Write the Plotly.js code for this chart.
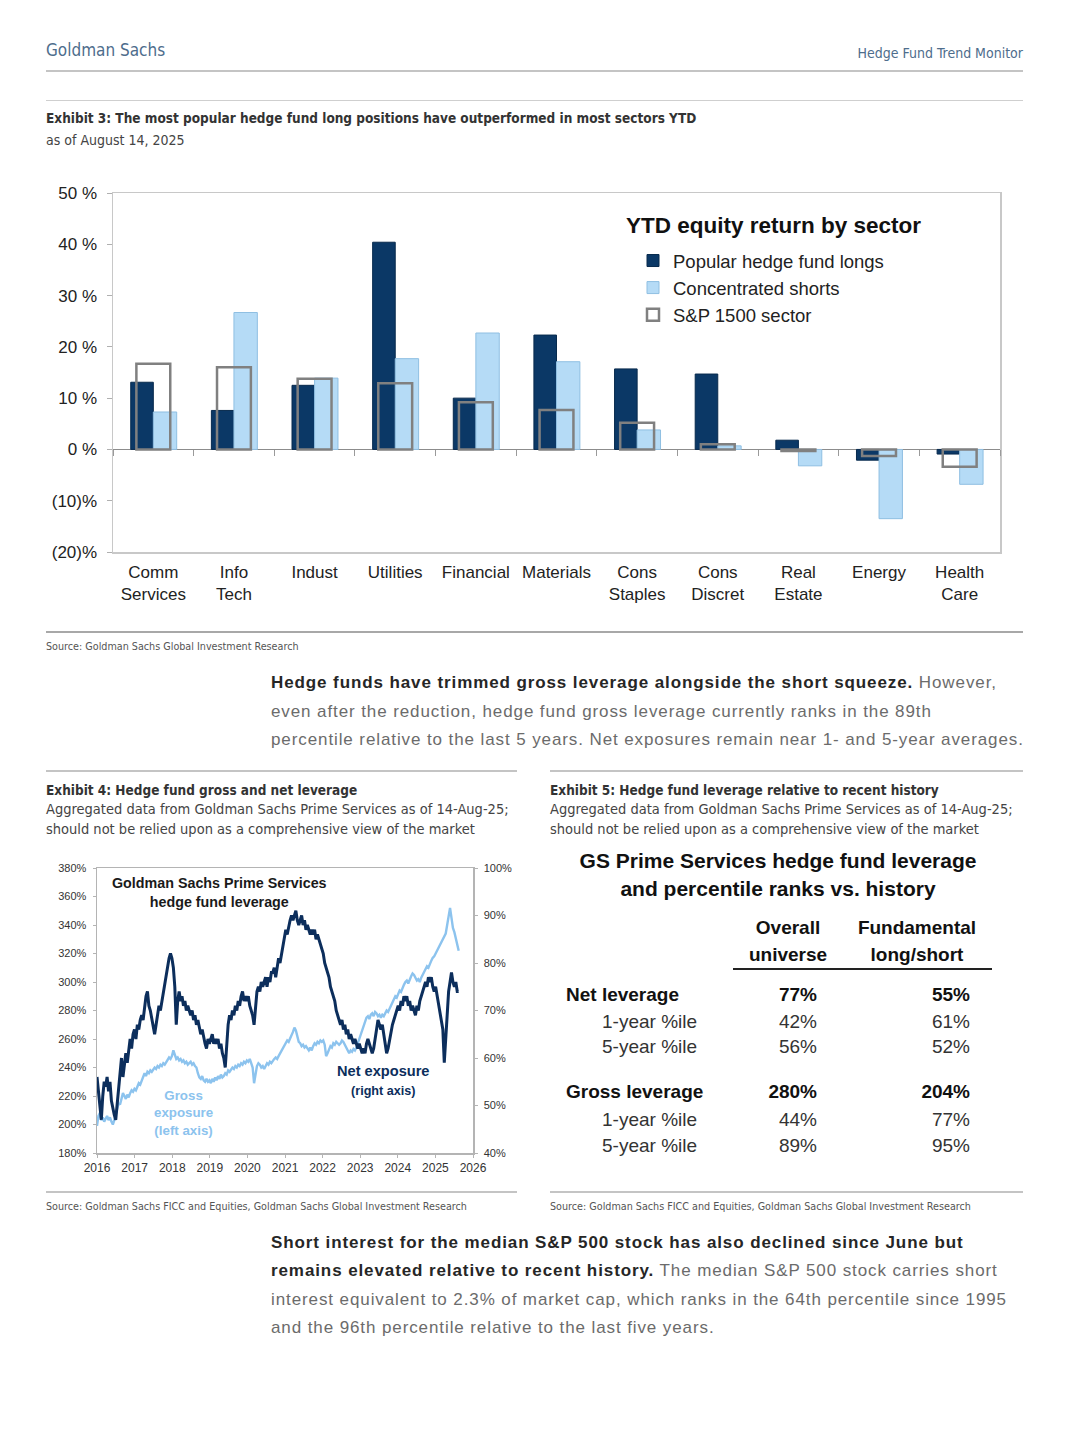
<!DOCTYPE html>
<html><head><meta charset="utf-8">
<script src="https://cdn.plot.ly/plotly-3.0.1.min.js"></script>
<style>
body{margin:0;background:#fff;width:1080px;height:1443px;position:relative;overflow:hidden;font-family:"Liberation Sans",Arial,sans-serif;}
.t{position:absolute;white-space:nowrap;}
.n{font-family:"Liberation Sans Narrow","Arial Narrow","DejaVu Sans Condensed",sans-serif;}
.rule{position:absolute;height:0;}
.para{letter-spacing:0.9px;}
#bar{position:absolute;left:0;top:150px;width:1080px;height:470px;}
#line{position:absolute;left:0;top:855px;width:540px;height:330px;}
</style></head><body>

<div class="t n" style="left:46px;top:39px;font-size:17px;line-height:22px;color:#4e6d8c;">Goldman Sachs</div>
<div class="t n" style="right:57px;top:44px;font-size:14px;line-height:18px;color:#4e6d8c;">Hedge Fund Trend Monitor</div>
<div class="rule" style="left:46px;width:977px;top:70px;border-top:2px solid #c4c4c4;"></div>
<div class="rule" style="left:46px;width:977px;top:100px;border-top:1px solid #cfcfcf;"></div>
<div class="t n" style="left:46px;top:109px;font-size:13.5px;line-height:18px;color:#333;font-weight:bold;">Exhibit 3: The most popular hedge fund long positions have outperformed in most sectors YTD</div>
<div class="t n" style="left:46px;top:131px;font-size:14px;line-height:18px;color:#444;">as of August 14, 2025</div>

<div id="bar"></div>

<div class="rule" style="left:46px;width:977px;top:631px;border-top:2px solid #a8a8a8;"></div>
<div class="t n" style="left:46px;top:640px;font-size:10.7px;line-height:14px;color:#555;">Source: Goldman Sachs Global Investment Research</div>

<div id="para1" class="t para" style="left:271px;top:669px;font-size:17px;line-height:28.5px;color:#6b6b6b;"></div>

<div class="rule" style="left:46px;width:471px;top:770px;border-top:2px solid #c4c4c4;"></div>
<div class="rule" style="left:550px;width:473px;top:770px;border-top:2px solid #c4c4c4;"></div>
<div class="t n" style="left:46px;top:781px;font-size:13.5px;line-height:18px;color:#333;font-weight:bold;">Exhibit 4: Hedge fund gross and net leverage</div>
<div class="t n" style="left:46px;top:800px;font-size:14.5px;line-height:19.5px;color:#444;">Aggregated data from Goldman Sachs Prime Services as of 14-Aug-25;<br>should not be relied upon as a comprehensive view of the market</div>
<div class="t n" style="left:550px;top:781px;font-size:13.5px;line-height:18px;color:#333;font-weight:bold;">Exhibit 5: Hedge fund leverage relative to recent history</div>
<div class="t n" style="left:550px;top:800px;font-size:14.5px;line-height:19.5px;color:#444;">Aggregated data from Goldman Sachs Prime Services as of 14-Aug-25;<br>should not be relied upon as a comprehensive view of the market</div>

<div id="line"></div>
<div id="table"></div>

<div class="rule" style="left:46px;width:471px;top:1191px;border-top:2px solid #c4c4c4;"></div>
<div class="rule" style="left:550px;width:473px;top:1191px;border-top:2px solid #c4c4c4;"></div>
<div class="t n" style="left:46px;top:1200px;font-size:10.7px;line-height:14px;color:#555;">Source: Goldman Sachs FICC and Equities, Goldman Sachs Global Investment Research</div>
<div class="t n" style="left:550px;top:1200px;font-size:10.7px;line-height:14px;color:#555;">Source: Goldman Sachs FICC and Equities, Goldman Sachs Global Investment Research</div>

<div id="para2" class="t para" style="left:271px;top:1229px;font-size:17px;line-height:28.4px;color:#6b6b6b;"></div>

<script>
// ---------- Exhibit 3 data ----------
const sectors = ['Comm<br>Services','Info<br>Tech','Indust','Utilities','Financial','Materials','Cons<br>Staples','Cons<br>Discret','Real<br>Estate','Energy','Health<br>Care'];
const hfLongs = [13.1, 7.6, 12.5, 40.4, 10.0, 22.3, 15.7, 14.7, 1.8, -2.1, -0.9];
const concShorts = [7.3, 26.7, 13.9, 17.7, 22.7, 17.1, 3.8, 0.7, -3.2, -13.5, -6.8];
const sp1500 = [16.7, 16.0, 13.8, 12.9, 9.2, 7.7, 5.2, 1.0, -0.3, -1.3, -3.4];
const barTickVals = [-20, -10, 0, 10, 20, 30, 40, 50];
const barTickText = ['(20)%', '(10)%', '0 %', '10 %', '20 %', '30 %', '40 %', '50 %'];

// ---------- Exhibit 4 data (bi-weekly readings from 2016-01-01) ----------
const seriesStart = '2016-01-01';
const netExposure = [
56,53,49,47,52,55,54,56,53,55,51,49,48,47,50,54,57,60,56,58,61,59,62,64,62,65,
66,64,67,66,68,69,68,71,73,74,71,70,68,66,65,67,69,71,70,72,74,76,77,79,81,82,
81,79,75,67,72,74,72,73,71,72,70,71,70,69,70,68,69,67,68,66,65,66,64,63,62,64,
63,64,65,63,64,63,64,62,63,61,60,58,64,67,69,68,70,69,71,70,72,71,73,74,72,73,
72,73,71,70,69,67,70,74,75,74,76,75,76,77,75,77,76,78,78,79,77,79,81,80,82,84,
86,87,86,88,89,90,89,90,91,89,88,89,90,88,89,87,88,87,86,87,86,87,85,86,85,84,
83,82,80,79,78,77,75,74,73,72,70,69,68,67,68,66,67,65,66,64,65,64,63,64,63,62,
63,62,61,62,61,63,64,63,62,61,62,64,66,68,67,66,67,65,63,61,62,64,66,67,68,69,
70,71,70,72,71,73,72,73,71,72,70,71,70,69,71,70,72,73,74,75,76,75,77,76,77,75,
74,75,73,72,70,68,66,59,64,70,74,76,78,76,75,76,74,74];
const grossExposure = [
199,206,208,203,205,202,204,206,203,205,202,200,203,207,211,215,214,219,222,220,218,221,219,222,224,223,
225,224,227,229,228,231,233,236,234,237,236,238,237,239,240,239,241,240,242,241,243,242,244,245,247,246,
248,252,249,246,247,245,246,244,245,243,244,242,243,244,242,243,241,240,236,233,232,234,231,230,232,230,
231,229,232,230,233,231,234,232,235,233,234,236,235,238,237,239,240,239,241,240,242,241,243,242,244,243,
245,244,246,243,240,229,236,241,243,242,240,241,239,241,243,242,244,243,245,246,247,246,248,250,252,254,
256,257,259,258,260,262,265,268,266,262,258,257,255,256,254,255,253,252,254,252,255,257,256,258,257,259,
258,259,256,248,250,253,255,254,257,256,258,257,256,257,259,258,256,254,252,250,252,251,253,252,254,257,
260,264,267,270,273,275,276,274,277,278,276,279,278,276,277,275,277,276,278,280,279,281,283,286,288,290,
289,292,294,293,296,298,300,301,299,302,304,306,305,303,301,302,300,303,305,307,309,311,310,313,315,317,
318,320,322,324,325,327,329,331,334,340,346,352,345,338,335,330,326,322];

// ---------- Exhibit 5 data ----------
const tableTitle = ['GS Prime Services hedge fund leverage', 'and percentile ranks vs. history'];
const colHeads = [['Overall', 'universe'], ['Fundamental', 'long/short']];
const rowLabels = ['Net leverage', '1-year %ile', '5-year %ile', 'Gross leverage', '1-year %ile', '5-year %ile'];
const overallVals = ['77%', '42%', '56%', '280%', '44%', '89%'];
const fundamentalVals = ['55%', '61%', '52%', '204%', '77%', '95%'];
const rowIsMain = [true, false, false, true, false, false];

// ---------- Text ----------
const para1Bold = 'Hedge funds have trimmed gross leverage alongside the short squeeze.';
const para1Rest = ' However,<br>even after the reduction, hedge fund gross leverage currently ranks in the 89th<br>percentile relative to the last 5 years. Net exposures remain near 1- and 5-year averages.';
const para2Bold = 'Short interest for the median S&amp;P 500 stock has also declined since June but<br>remains elevated relative to recent history.';
const para2Rest = ' The median S&amp;P 500 stock carries short<br>interest equivalent to 2.3% of market cap, which ranks in the 64th percentile since 1995<br>and the 96th percentile relative to the last five years.';
document.getElementById('para1').innerHTML = '<b style="color:#262626">' + para1Bold + '</b>' + para1Rest;
document.getElementById('para2').innerHTML = '<b style="color:#262626">' + para2Bold + '</b>' + para2Rest;

// ---------- Bar chart ----------
const FONT = 'Liberation Sans, Arial, sans-serif';
const barTraces = [
  {type:'bar', name:'Popular hedge fund longs', x:sectors, y:hfLongs, offset:-0.28, width:0.28,
   marker:{color:'#0b3866', line:{color:'#082a4d', width:1}}, legendgroup:'a'},
  {type:'bar', name:'Concentrated shorts', x:sectors, y:concShorts, offset:0.0, width:0.29,
   marker:{color:'#b5dbf6', line:{color:'#8fbfe2', width:1}}, legendgroup:'b'},
  {type:'bar', name:'S&P 1500 sector', x:sectors, y:sp1500, offset:-0.21, width:0.42, xaxis:'x2',
   marker:{color:'rgba(0,0,0,0)', line:{color:'#808080', width:2.5}}, legendgroup:'c'}
];
const barLayout = {
  width:1080, height:470, margin:{l:113, r:80, t:43, b:68},
  paper_bgcolor:'rgba(0,0,0,0)', plot_bgcolor:'#fff',
  barmode:'overlay', showlegend:true,
  font:{family:FONT, color:'#222'},
  xaxis:{type:'category', range:[-0.5,10.5], showline:true, mirror:true, linecolor:'#c8c8c8', linewidth:1.5,
         ticks:'', showgrid:false, ticklabelstandoff:4, tickfont:{size:17, color:'#222'}, fixedrange:true},
  xaxis2:{type:'category', overlaying:'x', anchor:'free', position:20/70, range:[-0.5,10.5],
          showticklabels:false, ticks:'outside', tickson:'boundaries', ticklen:6, tickcolor:'#9a9a9a',
          showline:false, showgrid:false, zeroline:false},
  yaxis:{range:[-20,50], tickvals:barTickVals, ticktext:barTickText, showgrid:false,
         zeroline:true, zerolinecolor:'#8c8c8c', zerolinewidth:1.5,
         showline:true, mirror:true, linecolor:'#c8c8c8', linewidth:1.5,
         ticks:'outside', ticklen:5, tickcolor:'#b0b0b0', ticklabelstandoff:6,
         tickfont:{size:17, color:'#222'}},
  legend:{x:(633-113)/887, y:(552-242)/359, xanchor:'left', yanchor:'top', bgcolor:'rgba(0,0,0,0)',
          font:{size:18.5, color:'#222', family:FONT}, traceorder:'grouped', tracegroupgap:0, itemwidth:30},
  annotations:[{xref:'paper', yref:'paper', x:(773-113)/887, y:(552-225)/359, xanchor:'center', yanchor:'middle',
                text:'<b>YTD equity return by sector</b>', showarrow:false, font:{size:22.5, color:'#111', family:FONT}}]
};
Plotly.newPlot('bar', barTraces, barLayout, {staticPlot:true, displayModeBar:false});

// ---------- Line chart ----------
const DX = 14*24*3600*1000;
const lineTraces = [
  {type:'scatter', mode:'lines', name:'Gross exposure', x0:seriesStart, dx:DX, y:grossExposure,
   line:{color:'#8cc3ee', width:2.4}, yaxis:'y'},
  {type:'scatter', mode:'lines', name:'Net exposure', x0:seriesStart, dx:DX, y:netExposure,
   line:{color:'#0c2e5c', width:3}, yaxis:'y2'}
];
const lineLayout = {
  width:540, height:330, margin:{l:97, r:67, t:13, b:32},
  paper_bgcolor:'rgba(0,0,0,0)', plot_bgcolor:'#fff', showlegend:false,
  font:{family:FONT, color:'#333'},
  xaxis:{type:'date', range:['2016-01-01','2026-01-01'], tick0:'2016-01-01', dtick:'M12', tickformat:'%Y',
         showline:true, mirror:true, linecolor:'#b4b4b4', linewidth:1.5, ticks:'outside', ticklen:3, tickcolor:'#b4b4b4',
         showgrid:false, tickfont:{size:12, color:'#333'}},
  yaxis:{range:[180,380], dtick:20, ticksuffix:'%', showline:true, linecolor:'#b4b4b4', linewidth:1.5,
         ticks:'outside', ticklen:3, tickcolor:'#b4b4b4', showgrid:false, zeroline:false,
         ticklabelstandoff:4, tickfont:{size:11, color:'#333'}},
  yaxis2:{range:[40,100], dtick:10, ticksuffix:'%', overlaying:'y', side:'right', showline:true,
          linecolor:'#b4b4b4', linewidth:1.5, ticks:'outside', ticklen:3, tickcolor:'#b4b4b4',
          showgrid:false, zeroline:false, ticklabelstandoff:4, tickfont:{size:11, color:'#333'}},
  annotations:[
    {xref:'paper', yref:'paper', x:(219-97)/376, y:(1153-892)/285, xanchor:'center', yanchor:'middle', showarrow:false,
     text:'<b>Goldman Sachs Prime Services<br>hedge fund leverage</b>', font:{size:14.3, color:'#1a1a1a', family:FONT}},
    {xref:'paper', yref:'paper', x:(183-97)/376, y:(1153-1113)/285, xanchor:'center', yanchor:'middle', showarrow:false,
     text:'<b>Gross<br>exposure<br>(left axis)</b>', font:{size:13.3, color:'#8cc3ee', family:FONT}},
    {xref:'paper', yref:'paper', x:(383-97)/376, y:(1153-1080)/285, xanchor:'center', yanchor:'middle', showarrow:false,
     text:'<b>Net exposure<br><span style="font-size:12.6px">(right axis)</span></b>', font:{size:14.6, color:'#0c2e5c', family:FONT}}
  ]
};
Plotly.newPlot('line', lineTraces, lineLayout, {staticPlot:true, displayModeBar:false});

// ---------- Table ----------
(function(){
  const tb = document.getElementById('table');
  let h = '';
  const txt = (s, style) => '<div class="t" style="' + style + '">' + s + '</div>';
  h += txt('<b>' + tableTitle[0] + '<br>' + tableTitle[1] + '</b>',
           'left:478px;width:600px;top:847px;text-align:center;font-size:21px;line-height:28px;color:#111;');
  const colCenters = [788, 917];
  colHeads.forEach((c, i) => {
    h += txt('<b>' + c[0] + '<br>' + c[1] + '</b>',
      'left:' + (colCenters[i]-100) + 'px;width:200px;top:914px;text-align:center;font-size:19px;line-height:27px;color:#111;');
  });
  h += '<div class="rule" style="left:733px;width:259px;top:968px;border-top:2px solid #222;"></div>';
  const rowY = [995, 1022, 1047, 1092, 1120, 1146];
  rowLabels.forEach((lab, i) => {
    const main = rowIsMain[i];
    const w = main ? 'bold' : 'normal';
    const col = main ? '#111' : '#333';
    const top = rowY[i] - 12;
    h += txt(lab, 'left:' + (main ? 566 : 602) + 'px;top:' + top + 'px;font-size:19px;line-height:24px;font-weight:' + w + ';color:' + col + ';');
    h += txt(overallVals[i], 'right:' + (1080-817) + 'px;top:' + top + 'px;font-size:19px;line-height:24px;font-weight:' + w + ';color:' + col + ';');
    h += txt(fundamentalVals[i], 'right:' + (1080-970) + 'px;top:' + top + 'px;font-size:19px;line-height:24px;font-weight:' + w + ';color:' + col + ';');
  });
  tb.innerHTML = h;
})();
</script>
</body></html>
